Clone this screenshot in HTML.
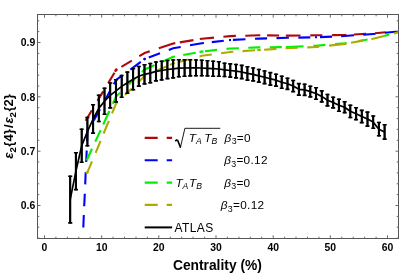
<!DOCTYPE html>
<html><head><meta charset="utf-8"><title>chart</title>
<style>
html,body{margin:0;padding:0;background:#fff;}
body{width:399px;height:274px;overflow:hidden;font-family:"Liberation Sans",sans-serif;}
svg{display:block;will-change:transform;}
text{font-family:"Liberation Sans",sans-serif;fill:#000;}
.tl{font-size:10.4px;font-weight:bold;}
.lg{font-size:11.8px;}
.it{font-style:italic;}
</style></head><body>
<svg width="399" height="274" viewBox="0 0 399 274">
<rect x="0" y="0" width="399" height="274" fill="#fff"/>

<defs><clipPath id="cp"><rect x="37.5" y="14.5" width="361.5" height="224.0"/></clipPath></defs>
<g clip-path="url(#cp)" fill="none" stroke-width="2.1">
<path stroke="#ae0a0e" d="M85.6 120.7L91.9 110.2M97.5 100.9L103.2 91.4M108.2 83.1L114.5 72.7M115.0 71.8L116.1 70.0L117.4 69.2M121.4 66.8L131.8 60.7M139.3 56.2L144.7 53.0L149.8 51.3M158.8 48.3L173.2 43.5L175.3 43.1M179.8 42.4L193.4 40.1M199.8 39.0L201.8 38.7L214.0 37.6M223.4 36.7L230.3 36.1L235.9 35.9M245.3 35.7L258.9 35.3L260.3 35.3M267.1 35.4L279.1 35.5M285.9 35.6L287.5 35.6L300.5 35.5M310.3 35.4L316.0 35.3L322.3 35.2M332.1 35.1L344.6 35.0L346.4 34.9M354.0 34.5L366.1 33.8M375.1 33.2L385.6 32.3"/>
<path stroke="#0000ff" d="M83.3 227.5L83.8 215.0M84.2 206.3L84.8 193.8M85.2 184.4L85.7 172.0M86.2 162.0L86.7 150.5M87.1 141.0L87.6 129.5M93.8 120.5L100.0 109.3M105.7 98.9L110.0 91.1M113.8 84.2L116.1 80.0L121.4 76.1M130.3 69.6L140.8 61.9M143.7 59.7L144.7 59.0L145.6 58.7M148.8 57.5L160.0 53.3M168.8 50.0L173.2 48.3L180.7 47.0M190.0 45.3L201.8 43.2L203.9 43.0M211.8 42.1L223.8 40.7M229.0 40.1L230.3 40.0L231.0 40.0M232.9 39.9L245.5 39.3M255.0 38.8L258.9 38.6L267.1 38.4M276.5 38.1L287.5 37.8L288.9 37.8M298.3 37.6L310.3 37.4M315.0 37.3L316.0 37.3L317.0 37.3M320.0 37.1L332.1 36.6M341.1 36.2L344.6 36.0L354.0 35.3M363.1 34.7L373.1 34.0L375.5 33.8M384.9 32.8L398.0 31.5L398.5 31.4"/>
<path stroke="#00f000" d="M86.6 160.5L92.0 148.8M95.3 141.6L100.6 130.1M103.2 124.5L109.4 111.0M112.8 103.7L116.1 96.5L120.1 92.7M129.0 84.3L135.0 78.7M141.9 72.1L144.7 69.5L154.5 65.1M162.5 61.6L173.2 56.8L175.0 56.5M183.2 55.0L195.7 52.7M199.5 52.0L201.8 51.6L203.5 51.4M205.0 51.3L217.0 49.9M226.5 48.9L230.3 48.5L238.9 48.2M248.3 47.8L258.9 47.4L260.3 47.4M269.8 47.2L281.8 47.1M285.9 47.0L287.5 47.0L303.5 46.3M313.3 45.8L316.0 45.7L325.3 44.9M335.1 44.1L344.6 43.3L346.5 43.0M358.5 41.0L367.6 39.5M384.1 35.9L389.4 34.6"/>
<path stroke="#acac00" d="M87.1 173.2L92.0 161.4M95.6 152.8L100.6 140.8M103.6 133.5L108.9 120.8M112.0 113.4L116.1 103.5L117.6 102.1M125.0 94.9L131.8 88.4M138.0 82.4L144.7 76.0L146.0 75.4M156.0 71.0L167.0 66.2M170.0 64.9L173.2 63.5L175.0 63.0M179.0 61.9L188.5 59.4M199.5 56.4L201.8 55.8L211.8 54.5M221.1 53.2L230.3 52.0L233.3 51.8M242.5 51.1L255.0 50.3M257.3 50.1L258.9 50.0L260.8 49.9M264.1 49.7L276.5 48.9M285.6 48.3L287.5 48.2L297.9 47.8M307.3 47.4L316.0 47.0L319.3 46.7M329.1 45.6L344.6 44.0L346.5 43.6M351.0 42.8L363.1 40.6M371.3 39.0L373.1 38.7L384.1 36.0M393.9 33.6L398.0 32.6L398.5 32.5"/>
<circle cx="87.0" cy="172.6" r="1.5" fill="#acac00"/><circle cx="116.0" cy="70.0" r="1.4" fill="#ae0a0e"/><circle cx="144.6" cy="59.0" r="1.3" fill="#0000ff"/>
</g>
<g stroke="#000" fill="none">
<path stroke-width="1.6" d="M70.2 175.6V223.6M68.2 176.3h4.1M68.2 222.9h4.1M75.9 152.0V190.3M73.9 152.7h4.1M73.9 189.6h4.1M81.7 128.5V163.0M79.6 129.2h4.1M79.6 162.3h4.1M87.4 116.8V146.4M85.3 117.5h4.1M85.3 145.7h4.1M93.1 104.1V133.8M91.0 104.8h4.1M91.0 133.1h4.1M98.8 94.6V122.2M96.8 95.3h4.1M96.8 121.5h4.1M104.5 87.5V114.9M102.5 88.2h4.1M102.5 114.2h4.1M110.2 82.3V108.6M108.2 83.0h4.1M108.2 107.9h4.1M116.0 79.0V102.6M113.9 79.7h4.1M113.9 101.9h4.1M121.7 74.8V98.0M119.6 75.5h4.1M119.6 97.3h4.1M127.4 71.4V94.0M125.3 72.1h4.1M125.3 93.3h4.1M133.1 68.0V90.5M131.1 68.7h4.1M131.1 89.8h4.1M138.8 65.8V86.8M136.8 66.5h4.1M136.8 86.1h4.1M144.5 64.0V84.6M142.5 64.7h4.1M142.5 83.9h4.1M150.3 62.8V83.4M148.2 63.5h4.1M148.2 82.7h4.1M156.0 61.3V81.6M153.9 62.0h4.1M153.9 80.9h4.1M161.7 60.5V80.6M159.6 61.2h4.1M159.6 79.9h4.1M167.4 59.8V79.3M165.4 60.5h4.1M165.4 78.6h4.1M173.1 59.3V78.6M171.1 60.0h4.1M171.1 77.9h4.1M178.8 59.0V77.4M176.8 59.7h4.1M176.8 76.7h4.1M184.6 59.0V77.0M182.5 59.7h4.1M182.5 76.3h4.1M190.3 59.0V76.6M188.2 59.7h4.1M188.2 75.9h4.1M196.0 59.3V76.5M193.9 60.0h4.1M193.9 75.8h4.1M201.7 59.5V76.5M199.7 60.2h4.1M199.7 75.8h4.1M207.4 60.1V76.6M205.4 60.8h4.1M205.4 75.9h4.1M213.1 60.5V76.9M211.1 61.2h4.1M211.1 76.2h4.1M218.9 61.0V77.0M216.8 61.7h4.1M216.8 76.3h4.1M224.6 62.5V77.2M222.5 63.2h4.1M222.5 76.5h4.1M230.3 63.2V77.8M228.2 63.9h4.1M228.2 77.1h4.1M236.0 63.8V78.6M234.0 64.5h4.1M234.0 77.9h4.1M241.7 64.7V79.3M239.7 65.4h4.1M239.7 78.6h4.1M247.4 66.1V80.8M245.4 66.8h4.1M245.4 80.1h4.1M253.2 67.3V81.6M251.1 68.0h4.1M251.1 80.9h4.1M258.9 68.8V82.8M256.8 69.5h4.1M256.8 82.1h4.1M264.6 70.3V84.3M262.5 71.0h4.1M262.5 83.6h4.1M270.3 71.9V85.8M268.3 72.6h4.1M268.3 85.1h4.1M276.0 73.5V86.8M274.0 74.2h4.1M274.0 86.1h4.1M281.7 75.5V88.9M279.7 76.2h4.1M279.7 88.2h4.1M287.5 77.6V90.1M285.4 78.3h4.1M285.4 89.4h4.1M293.2 79.8V92.3M291.1 80.5h4.1M291.1 91.6h4.1M298.9 82.9V95.8M296.8 83.6h4.1M296.8 95.1h4.1M304.6 83.6V96.1M302.6 84.3h4.1M302.6 95.4h4.1M310.3 85.6V97.6M308.3 86.3h4.1M308.3 96.9h4.1M316.0 87.1V100.0M314.0 87.8h4.1M314.0 99.3h4.1M321.8 90.2V102.6M319.7 90.9h4.1M319.7 101.9h4.1M327.5 93.8V106.6M325.4 94.5h4.1M325.4 105.9h4.1M333.2 96.5V108.6M331.1 97.2h4.1M331.1 107.9h4.1M338.9 98.5V111.9M336.9 99.2h4.1M336.9 111.2h4.1M344.6 101.1V113.3M342.6 101.8h4.1M342.6 112.6h4.1M350.3 104.5V118.2M348.3 105.2h4.1M348.3 117.5h4.1M356.1 107.0V120.3M354.0 107.7h4.1M354.0 119.6h4.1M361.8 109.7V123.3M359.7 110.4h4.1M359.7 122.6h4.1M367.5 111.4V126.8M365.4 112.1h4.1M365.4 126.1h4.1M373.2 115.3V128.9M371.2 116.0h4.1M371.2 128.2h4.1M378.9 121.8V136.5M376.9 122.5h4.1M376.9 135.8h4.1M384.6 124.1V139.8M382.6 124.8h4.1M382.6 139.1h4.1"/>
<path stroke-width="2.1" d="M70.2 175.6V223.6M75.9 152.0V190.3M81.7 128.5V163.0M87.4 116.8V146.4M93.1 104.1V133.8M98.8 94.6V122.2M104.5 87.5V114.9M110.2 82.3V108.6M116.0 79.0V102.6M121.7 74.8V98.0M127.4 71.4V94.0M133.1 68.0V90.5M138.8 65.8V86.8M144.5 64.0V84.6M150.3 62.8V83.4M156.0 61.3V81.6M161.7 60.5V80.6M167.4 59.8V79.3M173.1 59.3V78.6M178.8 59.0V77.4M184.6 59.0V77.0M190.3 59.0V76.6M196.0 59.3V76.5M201.7 59.5V76.5M207.4 60.1V76.6M213.1 60.5V76.9M218.9 61.0V77.0M224.6 62.5V77.2M230.3 63.2V77.8M236.0 63.8V78.6M241.7 64.7V79.3M247.4 66.1V80.8M253.2 67.3V81.6M258.9 68.8V82.8M264.6 70.3V84.3M270.3 71.9V85.8M276.0 73.5V86.8M281.7 75.5V88.9M287.5 77.6V90.1M293.2 79.8V92.3M298.9 82.9V95.8M304.6 83.6V96.1M310.3 85.6V97.6M316.0 87.1V100.0M321.8 90.2V102.6M327.5 93.8V106.6M333.2 96.5V108.6M338.9 98.5V111.9M344.6 101.1V113.3M350.3 104.5V118.2M356.1 107.0V120.3M361.8 109.7V123.3M367.5 111.4V126.8M373.2 115.3V128.9M378.9 121.8V136.5M384.6 124.1V139.8"/>
<polyline stroke-width="1.7" stroke-linejoin="round" points="70.2,199.6 75.9,171.2 81.7,145.8 87.4,131.6 93.1,119.0 98.8,108.4 104.5,101.2 110.2,95.4 116.0,90.8 121.7,86.4 127.4,82.7 133.1,79.2 138.8,76.3 144.5,74.3 150.3,73.1 156.0,71.4 161.7,70.5 167.4,69.5 173.1,68.9 178.8,68.2 184.6,68.0 190.3,67.8 196.0,67.9 201.7,68.0 207.4,68.3 213.1,68.7 218.9,69.0 224.6,69.8 230.3,70.5 236.0,71.2 241.7,72.0 247.4,73.4 253.2,74.4 258.9,75.8 264.6,77.3 270.3,78.8 276.0,80.2 281.7,82.2 287.5,83.8 293.2,86.0 298.9,89.3 304.6,89.8 310.3,91.6 316.0,93.5 321.8,96.4 327.5,100.2 333.2,102.5 338.9,105.2 344.6,107.2 350.3,111.3 356.1,113.7 361.8,116.5 367.5,119.1 373.2,122.1 378.9,129.2 384.6,131.9"/>
</g>
<g stroke="#555" stroke-width="1" fill="none">
<rect x="37.5" y="14.5" width="361.0" height="224.0"/>
<path stroke="#6a6a6a" d="M44.5 238.5v-3.2M44.5 14.5v3.2M55.9 238.5v-1.8M55.9 14.5v1.8M67.4 238.5v-1.8M67.4 14.5v1.8M78.8 238.5v-1.8M78.8 14.5v1.8M90.2 238.5v-1.8M90.2 14.5v1.8M101.7 238.5v-3.2M101.7 14.5v3.2M113.1 238.5v-1.8M113.1 14.5v1.8M124.5 238.5v-1.8M124.5 14.5v1.8M136.0 238.5v-1.8M136.0 14.5v1.8M147.4 238.5v-1.8M147.4 14.5v1.8M158.8 238.5v-3.2M158.8 14.5v3.2M170.3 238.5v-1.8M170.3 14.5v1.8M181.7 238.5v-1.8M181.7 14.5v1.8M193.1 238.5v-1.8M193.1 14.5v1.8M204.6 238.5v-1.8M204.6 14.5v1.8M216.0 238.5v-3.2M216.0 14.5v3.2M227.4 238.5v-1.8M227.4 14.5v1.8M238.9 238.5v-1.8M238.9 14.5v1.8M250.3 238.5v-1.8M250.3 14.5v1.8M261.7 238.5v-1.8M261.7 14.5v1.8M273.2 238.5v-3.2M273.2 14.5v3.2M284.6 238.5v-1.8M284.6 14.5v1.8M296.0 238.5v-1.8M296.0 14.5v1.8M307.5 238.5v-1.8M307.5 14.5v1.8M318.9 238.5v-1.8M318.9 14.5v1.8M330.3 238.5v-3.2M330.3 14.5v3.2M341.8 238.5v-1.8M341.8 14.5v1.8M353.2 238.5v-1.8M353.2 14.5v1.8M364.6 238.5v-1.8M364.6 14.5v1.8M376.1 238.5v-1.8M376.1 14.5v1.8M387.5 238.5v-3.2M387.5 14.5v3.2M37.5 238.1h1.8M398.5 238.1h-1.8M37.5 227.2h1.8M398.5 227.2h-1.8M37.5 216.4h1.8M398.5 216.4h-1.8M37.5 205.5h3.0M398.5 205.5h-3.0M37.5 194.6h1.8M398.5 194.6h-1.8M37.5 183.8h1.8M398.5 183.8h-1.8M37.5 172.9h1.8M398.5 172.9h-1.8M37.5 162.0h1.8M398.5 162.0h-1.8M37.5 151.2h3.0M398.5 151.2h-3.0M37.5 140.3h1.8M398.5 140.3h-1.8M37.5 129.4h1.8M398.5 129.4h-1.8M37.5 118.6h1.8M398.5 118.6h-1.8M37.5 107.7h1.8M398.5 107.7h-1.8M37.5 96.8h3.0M398.5 96.8h-3.0M37.5 86.0h1.8M398.5 86.0h-1.8M37.5 75.1h1.8M398.5 75.1h-1.8M37.5 64.2h1.8M398.5 64.2h-1.8M37.5 53.4h1.8M398.5 53.4h-1.8M37.5 42.5h3.0M398.5 42.5h-3.0M37.5 31.6h1.8M398.5 31.6h-1.8M37.5 20.8h1.8M398.5 20.8h-1.8"/>
</g>
<text class="tl" text-anchor="middle" x="44.5" y="250.6">0</text>
<text class="tl" text-anchor="middle" x="101.7" y="250.6">10</text>
<text class="tl" text-anchor="middle" x="158.8" y="250.6">20</text>
<text class="tl" text-anchor="middle" x="216.0" y="250.6">30</text>
<text class="tl" text-anchor="middle" x="273.2" y="250.6">40</text>
<text class="tl" text-anchor="middle" x="330.3" y="250.6">50</text>
<text class="tl" text-anchor="middle" x="387.5" y="250.6">60</text>
<text class="tl" text-anchor="end" x="35.2" y="209.2">0.6</text>
<text class="tl" text-anchor="end" x="35.2" y="154.9">0.7</text>
<text class="tl" text-anchor="end" x="35.2" y="100.5">0.8</text>
<text class="tl" text-anchor="end" x="35.2" y="46.2">0.9</text>
<text x="217.4" y="270" text-anchor="middle" style="font-size:13.8px;font-weight:bold">Centrality (%)</text>
<text transform="translate(13.2,158.7) rotate(-90)" style="font-size:13.1px;font-weight:bold"><tspan x="0" font-style="italic">ε</tspan><tspan x="6.2" dy="2.7" style="font-size:9.6px">2</tspan><tspan x="12" dy="-2.7">{4}</tspan><tspan x="30.6">/</tspan><tspan x="35.2" font-style="italic">ε</tspan><tspan x="41.2" dy="2.7" style="font-size:9.6px">2</tspan><tspan x="47.2" dy="-2.7">{2}</tspan></text>
<path d="M144.7 137.9H172.1" stroke="#ae0a0e" stroke-width="2.1" stroke-dasharray="13 9" fill="none"/>
<path d="M144.7 160.2H172.1" stroke="#0000ff" stroke-width="2.1" stroke-dasharray="13 9" fill="none"/>
<path d="M144.7 182.6H172.1" stroke="#00f000" stroke-width="2.1" stroke-dasharray="13 9" fill="none"/>
<path d="M144.7 204.9H172.1" stroke="#acac00" stroke-width="2.1" stroke-dasharray="13 9" fill="none"/>
<path d="M144.7 227.4H172.1" stroke="#000" stroke-width="2" fill="none"/>
<text class="lg" x="224.6" y="142.0"><tspan class="it">β</tspan><tspan dy="2.2" dx="0.3" style="font-size:8.9px">3</tspan><tspan dy="-2.2" dx="0.2" style="letter-spacing:0.32px">=0</tspan></text>
<text class="lg" x="224.2" y="164.3"><tspan class="it">β</tspan><tspan dy="2.2" dx="0.3" style="font-size:8.9px">3</tspan><tspan dy="-2.2" dx="0.2" style="letter-spacing:0.32px">=0.12</tspan></text>
<text class="lg" x="224.2" y="187.0"><tspan class="it">β</tspan><tspan dy="2.2" dx="0.3" style="font-size:8.9px">3</tspan><tspan dy="-2.2" dx="0.2" style="letter-spacing:0.32px">=0</tspan></text>
<text class="lg" x="220.8" y="209.3"><tspan class="it">β</tspan><tspan dy="2.2" dx="0.3" style="font-size:8.9px">3</tspan><tspan dy="-2.2" dx="0.2" style="letter-spacing:0.32px">=0.12</tspan></text>
<text class="lg it" x="188.7" y="142.0">T<tspan dy="2.2" style="font-size:8.6px">A</tspan><tspan dy="-2.2" dx="2.6">T</tspan><tspan dy="2.2" style="font-size:8.6px">B</tspan></text>
<text class="lg it" x="175.4" y="187.0">T<tspan dy="2.2" style="font-size:8.6px">A</tspan><tspan dy="-2.2" dx="0.6">T</tspan><tspan dy="2.2" style="font-size:8.6px">B</tspan></text>
<path d="M175.2 141l2 -1.2M177.4 139.8L180.5 147.4" stroke="#000" stroke-width="1.6" fill="none"/><path d="M180.3 148L184.9 128.3H220.3" stroke="#000" stroke-width="0.9" fill="none" stroke-linejoin="miter"/>
<text class="lg" x="174.4" y="231.6" style="font-size:12px;letter-spacing:0.45px">ATLAS</text>
</svg></body></html>
